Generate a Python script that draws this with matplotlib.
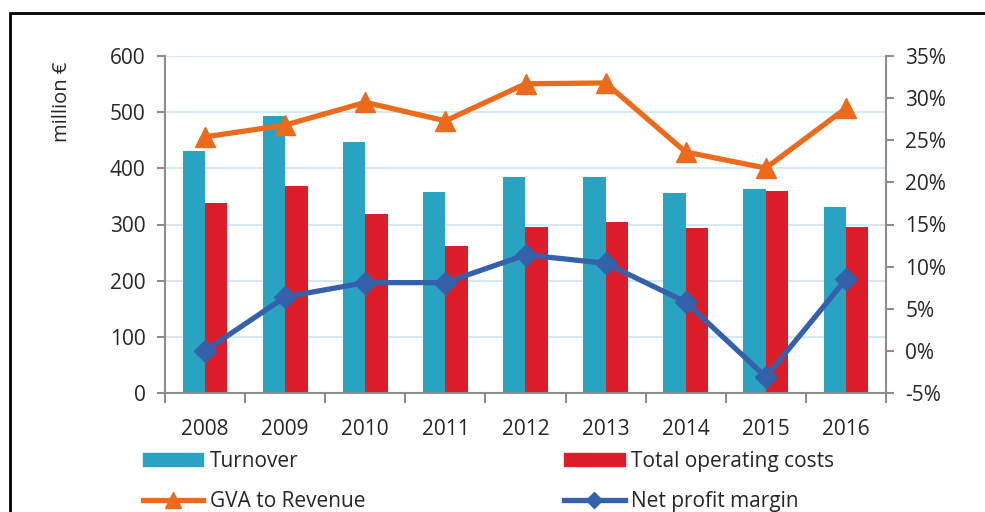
import numpy as np
import matplotlib
matplotlib.use("Agg")
import matplotlib.pyplot as plt
import matplotlib.patches as patches
from matplotlib.lines import Line2D
from matplotlib.ticker import FuncFormatter, FixedLocator

plt.rcParams['font.family'] = ['Open Sans', 'DejaVu Sans']

# Data
years = ['2008', '2009', '2010', '2011', '2012', '2013', '2014', '2015', '2016']
turnover = [430, 494, 446, 357, 384, 384, 356, 363, 332]
operating_costs = [338, 368, 319, 262, 296, 304, 293, 360, 296]
gva_to_revenue = [25.4, 26.8, 29.5, 27.3, 31.7, 31.8, 23.6, 21.7, 28.8]
net_profit_margin = [0.0, 6.4, 8.1, 8.1, 11.4, 10.4, 5.8, -3.1, 8.5]

c_turn = '#2aa2c1'
c_cost = '#dc1e2b'
c_gva = '#ec6a1b'
c_npm = '#3461a9'
c_axis = '#8c8c8c'
c_grid = '#d3e9f2'
c_text = '#262626'

fig = plt.figure(figsize=(9.85, 5.12), dpi=100)
ax = fig.add_axes([165 / 985, 1 - 393 / 512, (886 - 165) / 985, (393 - 56) / 512])

x = np.arange(len(years))
w = 0.28
ax.bar(x - w / 2, turnover, w, color=c_turn, zorder=2)
ax.bar(x + w / 2, operating_costs, w, color=c_cost, zorder=2)

ax.set_xlim(-0.5, len(years) - 0.5)
ax.set_ylim(0, 600)
ax.set_yticks(np.arange(0, 601, 100))
ax.yaxis.grid(True, color=c_grid, linewidth=1.5, zorder=0)
ax.set_axisbelow(True)

ax.set_xticks(x)
ax.set_xticklabels(years)
ax.xaxis.set_minor_locator(FixedLocator(np.arange(-0.5, len(years), 1)))
ax.tick_params(axis='x', which='major', length=0, pad=19, labelsize=15, labelcolor=c_text)
ax.tick_params(axis='x', which='minor', length=7, width=1.5, color=c_axis, direction='out')
ax.tick_params(axis='y', length=6, width=1.5, color=c_axis, labelsize=15,
               labelcolor=c_text, pad=8)

for side in ['left', 'bottom']:
    ax.spines[side].set_color(c_axis)
    ax.spines[side].set_linewidth(1.5)
ax.spines['top'].set_visible(False)
ax.spines['right'].set_visible(False)

ax2 = ax.twinx()
ax2.plot(x, gva_to_revenue, color=c_gva, linewidth=3.8, marker='^',
         markersize=15, zorder=4)
ax2.plot(x, net_profit_margin, color=c_npm, linewidth=3.8, marker='D',
         markersize=11, zorder=4)
ax2.set_ylim(-5, 35)
ax2.set_yticks(np.arange(-5, 36, 5))
ax2.yaxis.set_major_formatter(FuncFormatter(lambda v, p: f'{v:.0f}%'))
ax2.tick_params(axis='y', length=6, width=1.5, color=c_axis, labelsize=15,
                labelcolor=c_text, pad=8)
ax2.spines['right'].set_color(c_axis)
ax2.spines['right'].set_linewidth(1.5)
for side in ['top', 'left', 'bottom']:
    ax2.spines[side].set_visible(False)

fig.text(62 / 985, 1 - 102 / 512, 'million €', rotation=90, ha='center',
         va='center', fontsize=14.5, color=c_text)

handles = [
    patches.Patch(color=c_turn),
    Line2D([], [], color=c_gva, linewidth=3.8, marker='^', markersize=11),
    patches.Patch(color=c_cost),
    Line2D([], [], color=c_npm, linewidth=3.8, marker='D', markersize=8),
]
labels = ['Turnover', 'GVA to Revenue', 'Total operating costs', 'Net profit margin']
fig.legend(handles, labels, ncol=2, loc='upper left',
           bbox_to_anchor=(143 / 985, 1 - 451 / 512), frameon=False,
           fontsize=15, handlelength=2.9, handleheight=0.6, handletextpad=0.3,
           columnspacing=9.55, labelspacing=0.9, labelcolor=c_text,
           borderaxespad=0, borderpad=0)

# outer frame of the original figure
fig.add_artist(patches.Rectangle((10 / 985, -0.05), 1.1, 1 - 13 / 512 + 0.05,
                                 transform=fig.transFigure, fill=False,
                                 edgecolor='black', linewidth=2, clip_on=False))

fig.savefig('out.png', dpi=100)
